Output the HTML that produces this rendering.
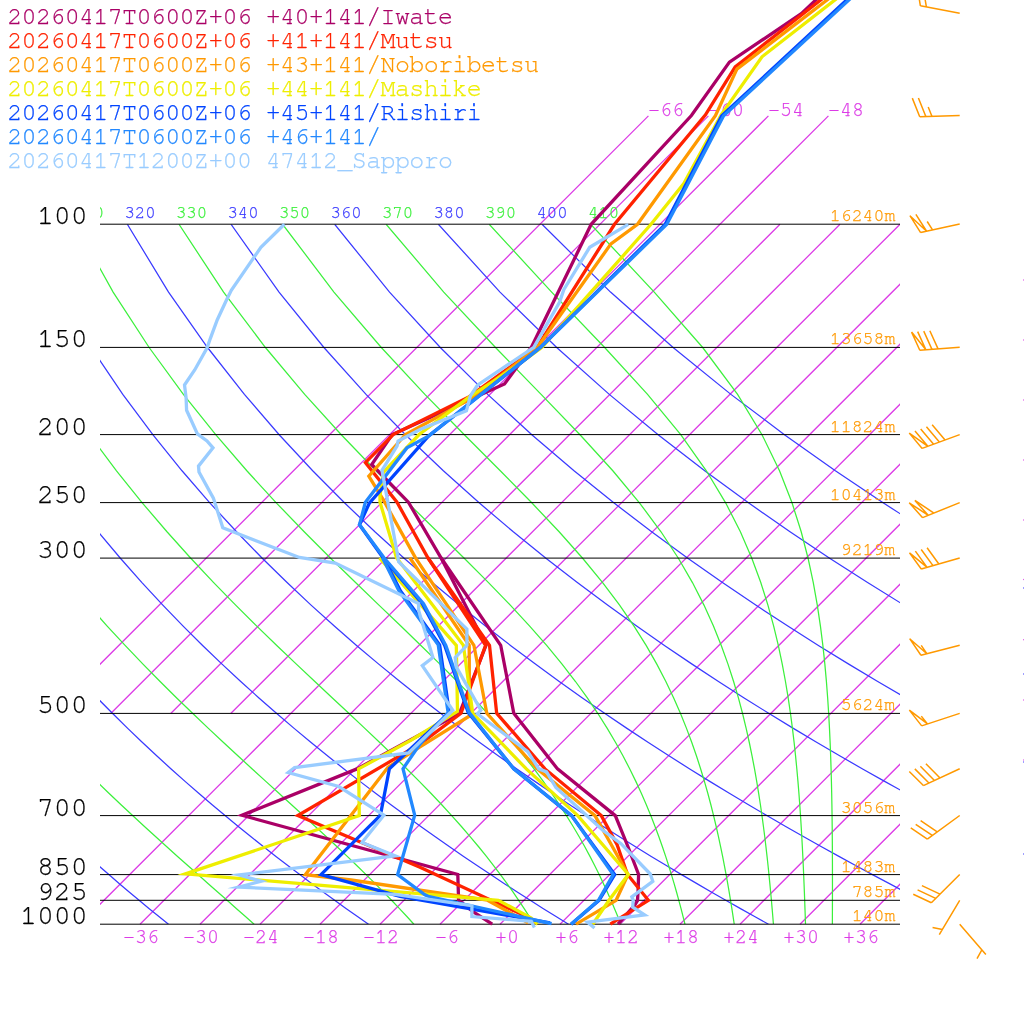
<!DOCTYPE html><html><head><meta charset="utf-8"><style>html,body{margin:0;padding:0;background:#fff;}svg{display:block}</style></head><body>
<svg width="1024" height="1024" viewBox="0 0 1024 1024">
<rect width="1024" height="1024" fill="#fff"/>
<defs><clipPath id="cp"><rect x="100" y="0" width="800" height="1024"/></clipPath><clipPath id="cb"><rect x="100" y="224.25" width="800" height="700.00"/></clipPath></defs>
<path clip-path="url(#cp)" d="M80.00 924.25L780.00 224.25M140.00 924.25L840.00 224.25M200.00 924.25L900.00 224.25M260.00 924.25L960.00 224.25M320.00 924.25L1020.00 224.25M380.00 924.25L1080.00 224.25M440.00 924.25L1140.00 224.25M500.00 924.25L1200.00 224.25M560.00 924.25L1260.00 224.25M620.00 924.25L1320.00 224.25M680.00 924.25L1380.00 224.25M740.00 924.25L1440.00 224.25M800.00 924.25L1500.00 224.25M860.00 924.25L1560.00 224.25M920.00 924.25L1620.00 224.25M980.00 924.25L1680.00 224.25M1040.00 924.25L1740.00 224.25M50.72 713.53L648.43 115.82M110.72 713.53L708.43 115.82M170.72 713.53L768.43 115.82M230.72 713.53L828.43 115.82" stroke="#dc3ce6" stroke-width="1.25" fill="none"/>
<text x="647.93" y="116.32" font-family="FreeMono, 'Liberation Mono', monospace" font-size="20" fill="#dc3ce6" stroke="#dc3ce6" stroke-width="0.25">−66</text>
<text x="707.93" y="116.32" font-family="FreeMono, 'Liberation Mono', monospace" font-size="20" fill="#dc3ce6" stroke="#dc3ce6" stroke-width="0.25">−60</text>
<text x="767.93" y="116.32" font-family="FreeMono, 'Liberation Mono', monospace" font-size="20" fill="#dc3ce6" stroke="#dc3ce6" stroke-width="0.25">−54</text>
<text x="827.93" y="116.32" font-family="FreeMono, 'Liberation Mono', monospace" font-size="20" fill="#dc3ce6" stroke="#dc3ce6" stroke-width="0.25">−48</text>
<path clip-path="url(#cb)" d="M-494.74 224.25L-494.41 292.09L-490.83 347.51L-485.35 394.38L-478.71 434.97L-471.33 470.78L-463.48 502.81L-455.33 531.78L-446.99 558.23L-438.56 582.57L-430.07 605.10L-421.57 626.07L-413.09 645.69L-404.65 664.12L-396.27 681.50L-387.95 697.94L-379.69 713.53L-371.52 728.36L-363.42 742.50L-355.41 756.02L-347.48 768.96L-339.64 781.37L-331.88 793.29L-324.20 804.76L-316.61 815.82L-309.10 826.49L-301.66 836.79L-294.31 846.76L-287.04 856.41L-279.85 865.77L-272.73 874.84L-265.68 883.66L-258.70 892.22L-251.80 900.55L-244.97 908.66L-238.20 916.55L-231.50 924.25M-391.06 224.25L-383.92 292.09L-374.44 347.51L-363.73 394.38L-352.36 434.97L-340.66 470.78L-328.82 502.81L-316.96 531.78L-305.14 558.23L-293.43 582.57L-281.84 605.10L-270.40 626.07L-259.11 645.69L-247.98 664.12L-237.02 681.50L-226.22 697.94L-215.59 713.53L-205.11 728.36L-194.79 742.50L-184.63 756.02L-174.61 768.96L-164.74 781.37L-155.01 793.29L-145.42 804.76L-135.96 815.82L-126.63 826.49L-117.43 836.79L-108.34 846.76L-99.38 856.41L-90.53 865.77L-81.79 874.84L-73.16 883.66L-64.63 892.22L-56.20 900.55L-47.87 908.66L-39.64 916.55L-31.50 924.25M-287.38 224.25L-273.43 292.09L-258.05 347.51L-242.10 394.38L-226.01 434.97L-209.99 470.78L-194.16 502.81L-178.59 531.78L-163.30 558.23L-148.30 582.57L-133.61 605.10L-119.22 626.07L-105.12 645.69L-91.31 664.12L-77.77 681.50L-64.50 697.94L-51.48 713.53L-38.70 728.36L-26.16 742.50L-13.84 756.02L-1.74 768.96L10.16 781.37L21.85 793.29L33.36 804.76L44.69 815.82L55.83 826.49L66.81 836.79L77.63 846.76L88.28 856.41L98.79 865.77L109.15 874.84L119.37 883.66L129.45 892.22L139.40 900.55L149.22 908.66L158.92 916.55L168.50 924.25M-183.71 224.25L-162.93 292.09L-141.65 347.51L-120.47 394.38L-99.66 434.97L-79.32 470.78L-59.50 502.81L-40.22 531.78L-21.45 558.23L-3.18 582.57L14.61 605.10L31.95 626.07L48.86 645.69L65.36 664.12L81.48 681.50L97.23 697.94L112.63 713.53L127.71 728.36L142.47 742.50L156.95 756.02L171.13 768.96L185.06 781.37L198.72 793.29L212.14 804.76L225.33 815.82L238.30 826.49L251.05 836.79L263.60 846.76L275.95 856.41L288.11 865.77L300.09 874.84L311.89 883.66L323.53 892.22L335.00 900.55L346.32 908.66L357.48 916.55L368.50 924.25M-80.03 224.25L-52.44 292.09L-25.26 347.51L1.15 394.38L26.69 434.97L51.35 470.78L75.15 502.81L98.15 531.78L120.40 558.23L141.95 582.57L162.84 605.10L183.13 626.07L202.85 645.69L222.03 664.12L240.72 681.50L258.95 697.94L276.74 713.53L294.12 728.36L311.11 742.50L327.73 756.02L344.01 768.96L359.95 781.37L375.59 793.29L390.92 804.76L405.98 815.82L420.76 826.49L435.29 836.79L449.56 846.76L463.61 856.41L477.42 865.77L491.02 874.84L504.41 883.66L517.60 892.22L530.60 900.55L543.41 908.66L556.04 916.55L568.50 924.25M23.65 224.25L58.05 292.09L91.13 347.51L122.78 394.38L153.04 434.97L182.02 470.78L209.81 502.81L236.52 531.78L262.25 558.23L287.08 582.57L311.07 605.10L334.30 626.07L356.83 645.69L378.70 664.12L399.97 681.50L420.67 697.94L440.85 713.53L460.53 728.36L479.74 742.50L498.52 756.02L516.88 768.96L534.85 781.37L552.45 793.29L569.71 804.76L586.62 815.82L603.22 826.49L619.52 836.79L635.53 846.76L651.27 856.41L666.74 865.77L681.96 874.84L696.94 883.66L711.68 892.22L726.20 900.55L740.50 908.66L754.60 916.55L768.50 924.25M127.32 224.25L168.54 292.09L207.53 347.51L244.41 394.38L279.40 434.97L312.69 470.78L344.47 502.81L374.90 531.78L404.10 558.23L432.20 582.57L459.30 605.10L485.48 626.07L510.81 645.69L535.38 664.12L559.22 681.50L582.40 697.94L604.96 713.53L626.94 728.36L648.37 742.50L669.30 756.02L689.75 768.96L709.75 781.37L729.32 793.29L748.49 804.76L767.27 815.82L785.69 826.49L803.76 836.79L821.50 846.76L838.93 856.41L856.06 865.77L872.90 874.84L889.46 883.66L905.76 892.22L921.80 900.55L937.60 908.66L953.16 916.55L968.50 924.25M231.00 224.25L279.04 292.09L323.92 347.51L366.04 394.38L405.75 434.97L443.36 470.78L479.13 502.81L513.27 531.78L545.95 558.23L577.33 582.57L607.53 605.10L636.65 626.07L664.80 645.69L692.05 664.12L718.47 681.50L744.12 697.94L769.07 713.53L793.35 728.36L817.01 742.50L840.09 756.02L862.62 768.96L884.65 781.37L906.19 793.29L927.27 804.76L947.92 815.82L968.15 826.49L988.00 836.79L1007.47 846.76L1026.59 856.41L1045.38 865.77L1063.83 874.84L1081.98 883.66L1099.83 892.22L1117.40 900.55L1134.69 908.66L1151.72 916.55L1168.50 924.25M334.68 224.25L389.53 292.09L440.31 347.51L487.66 394.38L532.10 434.97L574.03 470.78L613.79 502.81L651.64 531.78L687.80 558.23L722.45 582.57L755.75 605.10L787.83 626.07L818.78 645.69L848.72 664.12L877.72 681.50L905.85 697.94L933.17 713.53L959.75 728.36L985.64 742.50L1010.87 756.02L1035.50 768.96L1059.54 781.37L1083.05 793.29L1106.05 804.76L1128.56 815.82L1150.62 826.49L1172.24 836.79L1193.44 846.76L1214.26 856.41L1234.69 865.77L1254.77 874.84L1274.50 883.66L1293.91 892.22L1313.00 900.55L1331.79 908.66L1350.28 916.55L1368.50 924.25M438.35 224.25L500.02 292.09L556.71 347.51L609.29 394.38L658.45 434.97L704.70 470.78L748.44 502.81L790.01 531.78L829.65 558.23L867.58 582.57L903.98 605.10L939.00 626.07L972.77 645.69L1005.39 664.12L1036.96 681.50L1067.57 697.94L1097.28 713.53L1126.16 728.36L1154.27 742.50L1181.66 756.02L1208.37 768.96L1234.44 781.37L1259.92 793.29L1284.83 804.76L1309.21 815.82L1333.08 826.49L1356.48 836.79L1379.41 846.76L1401.92 856.41L1424.01 865.77L1445.71 874.84L1467.03 883.66L1487.98 892.22L1508.60 900.55L1528.88 908.66L1548.84 916.55L1568.50 924.25M542.03 224.25L610.52 292.09L673.10 347.51L730.92 394.38L784.80 434.97L835.37 470.78L883.10 502.81L928.38 531.78L971.50 558.23L1012.71 582.57L1052.21 605.10L1090.18 626.07L1126.75 645.69L1162.06 664.12L1196.21 681.50L1229.29 697.94L1261.39 713.53L1292.57 728.36L1322.91 742.50L1352.44 756.02L1381.24 768.96L1409.34 781.37L1436.78 793.29L1463.61 804.76L1489.85 815.82L1515.55 826.49L1540.71 836.79L1565.38 846.76L1589.58 856.41L1613.33 865.77L1636.64 874.84L1659.55 883.66L1682.06 892.22L1704.20 900.55L1725.97 908.66L1747.40 916.55L1768.50 924.25" stroke="#3a3aff" stroke-width="1.25" fill="none"/>
<path clip-path="url(#cb)" d="M-331.50 224.25L-399.34 292.09L-454.76 347.51L-501.63 394.38L-541.98 434.97L-536.76 470.78L-530.90 502.81L-524.60 531.78L-518.00 558.23L-511.20 582.57L-504.26 605.10L-497.23 626.07L-490.15 645.69L-483.05 664.12L-475.95 681.50L-468.86 697.94L-461.80 713.53L-454.77 728.36L-447.79 742.50L-440.85 756.02L-433.96 768.96L-427.13 781.37L-420.35 793.29L-413.63 804.76L-406.96 815.82L-400.36 826.49L-393.81 836.79L-387.32 846.76L-380.89 856.41L-374.52 865.77L-368.21 874.84L-361.96 883.66L-355.76 892.22L-349.61 900.55L-343.53 908.66L-337.49 916.55L-331.51 924.25M-331.50 224.25L-399.34 292.09L-432.75 347.51L-424.65 394.38L-415.64 434.97L-406.10 470.78L-396.25 502.81L-386.24 531.78L-376.16 558.23L-366.08 582.57L-356.04 605.10L-346.06 626.07L-336.18 645.69L-326.39 664.12L-316.71 681.50L-307.15 697.94L-297.70 713.53L-288.37 728.36L-279.16 742.50L-270.07 756.02L-261.10 768.96L-252.24 781.37L-243.49 793.29L-234.86 804.76L-226.33 815.82L-217.91 826.49L-209.60 836.79L-201.39 846.76L-193.28 856.41L-185.26 865.77L-177.34 874.84L-169.52 883.66L-161.78 892.22L-154.14 900.55L-146.58 908.66L-139.11 916.55L-131.72 924.25M-331.50 224.25L-328.80 292.09L-316.37 347.51L-303.04 394.38L-289.30 434.97L-275.44 470.78L-261.60 502.81L-247.87 531.78L-234.32 558.23L-220.96 582.57L-207.82 605.10L-194.90 626.07L-182.20 645.69L-169.73 664.12L-157.48 681.50L-145.44 697.94L-133.62 713.53L-121.99 728.36L-110.57 742.50L-99.34 756.02L-88.30 768.96L-77.44 781.37L-66.76 793.29L-56.25 804.76L-45.91 815.82L-35.73 826.49L-25.71 836.79L-15.85 846.76L-6.15 856.41L3.40 865.77L12.81 874.84L22.07 883.66L31.18 892.22L40.14 900.55L48.97 908.66L57.65 916.55L66.19 924.25M-235.69 224.25L-218.32 292.09L-199.99 347.51L-181.42 394.38L-162.96 434.97L-144.78 470.78L-126.95 502.81L-109.51 531.78L-92.48 558.23L-75.85 582.57L-59.61 605.10L-43.75 626.07L-28.26 645.69L-13.13 664.12L1.67 681.50L16.13 697.94L30.28 713.53L44.12 728.36L57.65 742.50L70.90 756.02L83.85 768.96L96.52 781.37L108.92 793.29L121.04 804.76L132.88 815.82L144.46 826.49L155.76 836.79L166.79 846.76L177.56 856.41L188.05 865.77L198.28 874.84L208.24 883.66L217.94 892.22L227.37 900.55L236.54 908.66L245.45 916.55L254.10 924.25M-132.03 224.25L-107.84 292.09L-83.60 347.51L-59.80 394.38L-36.62 434.97L-14.12 470.78L7.69 502.81L28.82 531.78L49.31 558.23L69.18 582.57L88.46 605.10L107.18 626.07L125.34 645.69L142.98 664.12L160.10 681.50L176.70 697.94L192.81 713.53L208.41 728.36L223.51 742.50L238.12 756.02L252.22 768.96L265.82 781.37L278.93 793.29L291.53 804.76L303.64 815.82L315.26 826.49L326.39 836.79L337.06 846.76L347.26 856.41L357.00 865.77L366.32 874.84L375.20 883.66L383.69 892.22L391.78 900.55L399.50 908.66L406.87 916.55L413.90 924.25M-28.36 224.25L2.64 292.09L32.78 347.51L61.81 394.38L89.70 434.97L116.50 470.78L142.24 502.81L166.99 531.78L190.79 558.23L213.68 582.57L235.68 605.10L256.79 626.07L277.02 645.69L296.37 664.12L314.83 681.50L332.39 697.94L349.06 713.53L364.83 728.36L379.72 742.50L393.75 756.02L406.93 768.96L419.30 781.37L430.89 793.29L441.75 804.76L451.91 815.82L461.42 826.49L470.31 836.79L478.64 846.76L486.44 856.41L493.76 865.77L500.62 874.84L507.07 883.66L513.13 892.22L518.83 900.55L524.21 908.66L529.29 916.55L534.08 924.25M75.30 224.25L113.12 292.09L149.15 347.51L183.38 394.38L215.92 434.97L246.85 470.78L276.26 502.81L304.18 531.78L330.61 558.23L355.54 582.57L378.95 605.10L400.82 626.07L421.14 645.69L439.93 664.12L457.22 681.50L473.09 697.94L487.61 713.53L500.86 728.36L512.96 742.50L524.00 756.02L534.08 768.96L543.30 781.37L551.73 793.29L559.47 804.76L566.58 815.82L573.14 826.49L579.18 836.79L584.78 846.76L589.97 856.41L594.79 865.77L599.28 874.84L603.48 883.66L607.40 892.22L611.08 900.55L614.54 908.66L617.79 916.55L620.86 924.25M178.96 224.25L223.58 292.09L265.44 347.51L304.71 394.38L341.52 434.97L375.92 470.78L407.87 502.81L437.32 531.78L464.20 558.23L488.50 582.57L510.28 605.10L529.67 626.07L546.86 645.69L562.05 664.12L575.48 681.50L587.35 697.94L597.88 713.53L607.24 728.36L615.59 742.50L623.06 756.02L629.78 768.96L635.84 781.37L641.33 793.29L646.32 804.76L650.87 815.82L655.04 826.49L658.87 836.79L662.40 846.76L665.67 856.41L668.69 865.77L671.51 874.84L674.13 883.66L676.58 892.22L678.88 900.55L681.04 908.66L683.07 916.55L684.98 924.25M282.60 224.25L333.93 292.09L381.31 347.51L424.89 394.38L464.60 434.97L500.27 470.78L531.77 502.81L559.14 531.78L582.63 558.23L602.63 582.57L619.60 605.10L634.01 626.07L646.29 645.69L656.80 664.12L665.85 681.50L673.69 697.94L680.52 713.53L686.51 728.36L691.80 742.50L696.49 756.02L700.67 768.96L704.42 781.37L707.80 793.29L710.86 804.76L713.64 815.82L716.18 826.49L718.51 836.79L720.64 846.76L722.62 856.41L724.44 865.77L726.14 874.84L727.72 883.66L729.19 892.22L730.57 900.55L731.87 908.66L733.09 916.55L734.24 924.25M386.14 224.25L443.75 292.09L495.52 347.51L541.13 394.38L580.23 434.97L612.83 470.78L639.46 502.81L660.99 531.78L678.37 558.23L692.46 582.57L703.96 605.10L713.45 626.07L721.35 645.69L727.98 664.12L733.60 681.50L738.41 697.94L742.56 713.53L746.16 728.36L749.31 742.50L752.08 756.02L754.53 768.96L756.71 781.37L758.66 793.29L760.42 804.76L762.00 815.82L763.44 826.49L764.75 836.79L765.94 846.76L767.04 856.41L768.06 865.77L768.99 874.84L769.86 883.66L770.67 892.22L771.43 900.55L772.13 908.66L772.80 916.55L773.42 924.25M489.22 224.25L551.67 292.09L604.65 347.51L647.55 394.38L680.93 434.97L706.35 470.78L725.64 502.81L740.39 531.78L751.81 558.23L760.78 582.57L767.92 605.10L773.67 626.07L778.37 645.69L782.25 664.12L785.47 681.50L788.19 697.94L790.48 713.53L792.44 728.36L794.12 742.50L795.57 756.02L796.84 768.96L797.94 781.37L798.91 793.29L799.76 804.76L800.52 815.82L801.19 826.49L801.79 836.79L802.34 846.76L802.83 856.41L803.27 865.77L803.67 874.84L804.04 883.66L804.38 892.22L804.69 900.55L804.98 908.66L805.25 916.55L805.51 924.25M590.70 224.25L654.24 292.09L702.70 347.51L737.58 394.38L762.14 434.97L779.51 470.78L792.02 502.81L801.20 531.78L808.06 558.23L813.28 582.57L817.29 605.10L820.43 626.07L822.89 645.69L824.85 664.12L826.41 681.50L827.66 697.94L828.67 713.53L829.48 728.36L830.13 742.50L830.66 756.02L831.08 768.96L831.42 781.37L831.69 793.29L831.90 804.76L832.07 815.82L832.19 826.49L832.29 836.79L832.36 846.76L832.41 856.41L832.44 865.77L832.45 874.84L832.46 883.66L832.45 892.22L832.44 900.55L832.42 908.66L832.40 916.55L832.38 924.25" stroke="#3cf03c" stroke-width="1.25" fill="none"/>
<g clip-path="url(#cp)" font-family="FreeMono, 'Liberation Mono', monospace" font-size="17.3">
<text x="72.90" y="218.25" fill="#3cf03c" stroke="#3cf03c" stroke-width="0.25">310</text>
<text x="124.40" y="218.25" fill="#3a3aff" stroke="#3a3aff" stroke-width="0.25">320</text>
<text x="175.90" y="218.25" fill="#3cf03c" stroke="#3cf03c" stroke-width="0.25">330</text>
<text x="227.40" y="218.25" fill="#3a3aff" stroke="#3a3aff" stroke-width="0.25">340</text>
<text x="278.90" y="218.25" fill="#3cf03c" stroke="#3cf03c" stroke-width="0.25">350</text>
<text x="330.40" y="218.25" fill="#3a3aff" stroke="#3a3aff" stroke-width="0.25">360</text>
<text x="381.90" y="218.25" fill="#3cf03c" stroke="#3cf03c" stroke-width="0.25">370</text>
<text x="433.40" y="218.25" fill="#3a3aff" stroke="#3a3aff" stroke-width="0.25">380</text>
<text x="484.90" y="218.25" fill="#3cf03c" stroke="#3cf03c" stroke-width="0.25">390</text>
<text x="536.40" y="218.25" fill="#3a3aff" stroke="#3a3aff" stroke-width="0.25">400</text>
<text x="587.90" y="218.25" fill="#3cf03c" stroke="#3cf03c" stroke-width="0.25">410</text>
</g>
<path d="M100 224.20H900M100 347.40H900M100 434.60H900M100 502.60H900M100 558.10H900M100 713.40H900M100 815.60H900M100 874.60H900M100 900.30H900M100 924.20H900" stroke="#000" stroke-width="1" fill="none"/>
<text x="87.7" y="224.05" font-family="FreeMono, 'Liberation Mono', monospace" font-size="28.2" text-anchor="end" fill="#000" stroke="#000" stroke-width="0.25">100</text>
<text x="87.7" y="347.31" font-family="FreeMono, 'Liberation Mono', monospace" font-size="28.2" text-anchor="end" fill="#000" stroke="#000" stroke-width="0.25">150</text>
<text x="87.7" y="434.77" font-family="FreeMono, 'Liberation Mono', monospace" font-size="28.2" text-anchor="end" fill="#000" stroke="#000" stroke-width="0.25">200</text>
<text x="87.7" y="502.61" font-family="FreeMono, 'Liberation Mono', monospace" font-size="28.2" text-anchor="end" fill="#000" stroke="#000" stroke-width="0.25">250</text>
<text x="87.7" y="558.03" font-family="FreeMono, 'Liberation Mono', monospace" font-size="28.2" text-anchor="end" fill="#000" stroke="#000" stroke-width="0.25">300</text>
<text x="87.7" y="713.33" font-family="FreeMono, 'Liberation Mono', monospace" font-size="28.2" text-anchor="end" fill="#000" stroke="#000" stroke-width="0.25">500</text>
<text x="87.7" y="815.62" font-family="FreeMono, 'Liberation Mono', monospace" font-size="28.2" text-anchor="end" fill="#000" stroke="#000" stroke-width="0.25">700</text>
<text x="87.7" y="874.64" font-family="FreeMono, 'Liberation Mono', monospace" font-size="28.2" text-anchor="end" fill="#000" stroke="#000" stroke-width="0.25">850</text>
<text x="87.7" y="900.35" font-family="FreeMono, 'Liberation Mono', monospace" font-size="28.2" text-anchor="end" fill="#000" stroke="#000" stroke-width="0.25">925</text>
<text x="87.7" y="924.05" font-family="FreeMono, 'Liberation Mono', monospace" font-size="28.2" text-anchor="end" fill="#000" stroke="#000" stroke-width="0.25">1000</text>
<text x="895.3" y="220.95" font-family="FreeMono, 'Liberation Mono', monospace" font-size="18.2" text-anchor="end" fill="#ff9900" stroke="#ff9900" stroke-width="0.25">16240m</text>
<text x="895.3" y="344.21" font-family="FreeMono, 'Liberation Mono', monospace" font-size="18.2" text-anchor="end" fill="#ff9900" stroke="#ff9900" stroke-width="0.25">13658m</text>
<text x="895.3" y="431.67" font-family="FreeMono, 'Liberation Mono', monospace" font-size="18.2" text-anchor="end" fill="#ff9900" stroke="#ff9900" stroke-width="0.25">11824m</text>
<text x="895.3" y="499.51" font-family="FreeMono, 'Liberation Mono', monospace" font-size="18.2" text-anchor="end" fill="#ff9900" stroke="#ff9900" stroke-width="0.25">10413m</text>
<text x="895.3" y="554.93" font-family="FreeMono, 'Liberation Mono', monospace" font-size="18.2" text-anchor="end" fill="#ff9900" stroke="#ff9900" stroke-width="0.25">9219m</text>
<text x="895.3" y="710.23" font-family="FreeMono, 'Liberation Mono', monospace" font-size="18.2" text-anchor="end" fill="#ff9900" stroke="#ff9900" stroke-width="0.25">5624m</text>
<text x="895.3" y="812.52" font-family="FreeMono, 'Liberation Mono', monospace" font-size="18.2" text-anchor="end" fill="#ff9900" stroke="#ff9900" stroke-width="0.25">3056m</text>
<text x="895.3" y="871.54" font-family="FreeMono, 'Liberation Mono', monospace" font-size="18.2" text-anchor="end" fill="#ff9900" stroke="#ff9900" stroke-width="0.25">1483m</text>
<text x="895.3" y="897.25" font-family="FreeMono, 'Liberation Mono', monospace" font-size="18.2" text-anchor="end" fill="#ff9900" stroke="#ff9900" stroke-width="0.25">785m</text>
<text x="895.3" y="920.95" font-family="FreeMono, 'Liberation Mono', monospace" font-size="18.2" text-anchor="end" fill="#ff9900" stroke="#ff9900" stroke-width="0.25">140m</text>
<text x="158.90" y="942.55" font-family="FreeMono, 'Liberation Mono', monospace" font-size="20" text-anchor="end" fill="#dc3ce6" stroke="#dc3ce6" stroke-width="0.25">−36</text>
<text x="218.90" y="942.55" font-family="FreeMono, 'Liberation Mono', monospace" font-size="20" text-anchor="end" fill="#dc3ce6" stroke="#dc3ce6" stroke-width="0.25">−30</text>
<text x="278.90" y="942.55" font-family="FreeMono, 'Liberation Mono', monospace" font-size="20" text-anchor="end" fill="#dc3ce6" stroke="#dc3ce6" stroke-width="0.25">−24</text>
<text x="338.90" y="942.55" font-family="FreeMono, 'Liberation Mono', monospace" font-size="20" text-anchor="end" fill="#dc3ce6" stroke="#dc3ce6" stroke-width="0.25">−18</text>
<text x="398.90" y="942.55" font-family="FreeMono, 'Liberation Mono', monospace" font-size="20" text-anchor="end" fill="#dc3ce6" stroke="#dc3ce6" stroke-width="0.25">−12</text>
<text x="458.90" y="942.55" font-family="FreeMono, 'Liberation Mono', monospace" font-size="20" text-anchor="end" fill="#dc3ce6" stroke="#dc3ce6" stroke-width="0.25">−6</text>
<text x="518.90" y="942.55" font-family="FreeMono, 'Liberation Mono', monospace" font-size="20" text-anchor="end" fill="#dc3ce6" stroke="#dc3ce6" stroke-width="0.25">+0</text>
<text x="578.90" y="942.55" font-family="FreeMono, 'Liberation Mono', monospace" font-size="20" text-anchor="end" fill="#dc3ce6" stroke="#dc3ce6" stroke-width="0.25">+6</text>
<text x="638.90" y="942.55" font-family="FreeMono, 'Liberation Mono', monospace" font-size="20" text-anchor="end" fill="#dc3ce6" stroke="#dc3ce6" stroke-width="0.25">+12</text>
<text x="698.90" y="942.55" font-family="FreeMono, 'Liberation Mono', monospace" font-size="20" text-anchor="end" fill="#dc3ce6" stroke="#dc3ce6" stroke-width="0.25">+18</text>
<text x="758.90" y="942.55" font-family="FreeMono, 'Liberation Mono', monospace" font-size="20" text-anchor="end" fill="#dc3ce6" stroke="#dc3ce6" stroke-width="0.25">+24</text>
<text x="818.90" y="942.55" font-family="FreeMono, 'Liberation Mono', monospace" font-size="20" text-anchor="end" fill="#dc3ce6" stroke="#dc3ce6" stroke-width="0.25">+30</text>
<text x="878.90" y="942.55" font-family="FreeMono, 'Liberation Mono', monospace" font-size="20" text-anchor="end" fill="#dc3ce6" stroke="#dc3ce6" stroke-width="0.25">+36</text>
<path d="M959.70 13.20L920.38 5.84M920.38 5.84L917.12 -13.89M926.38 6.96L923.11 -12.77M959.70 115.50L919.72 116.71M919.72 116.71L912.31 98.13M925.82 116.53L918.41 97.95M931.91 116.34L928.21 107.05M959.70 224.00L920.63 232.58M920.63 232.58L909.92 215.69L926.59 231.27M926.59 231.27L915.88 214.38M932.55 229.96L927.19 221.52M959.70 347.30L919.81 350.30M919.81 350.30L911.58 332.07L925.90 349.84M925.90 349.84L917.67 331.61M931.98 349.38L923.75 331.16M938.06 348.93L929.83 330.70M959.70 434.60L922.16 448.41M922.16 448.41L909.25 433.14L927.89 446.31M927.89 446.31L914.98 431.03M933.61 444.20L920.70 428.93M939.34 442.09L926.43 426.82M945.06 439.99L932.15 424.71M959.70 502.60L922.63 517.63M922.63 517.63L909.23 502.78L928.28 515.34M928.28 515.34L914.88 500.49L933.94 513.04M959.70 558.00L921.25 569.02M921.25 569.02L909.50 552.83L927.11 567.34M927.11 567.34L915.36 551.15M932.97 565.66L921.22 549.47M938.84 563.98L927.09 547.79M959.70 645.30L920.95 655.21M920.95 655.21L909.66 638.70L926.86 653.70M926.86 653.70L921.22 645.45M959.70 713.40L921.69 725.87M921.69 725.87L909.34 710.14L927.49 723.97M927.49 723.97L921.31 716.10M959.70 768.80L923.40 785.59M923.40 785.59L909.30 771.41M928.93 783.03L914.83 768.85M934.47 780.47L920.37 766.29M940.01 777.91L925.91 763.73M959.70 815.50L927.35 839.03M927.35 839.03L910.77 827.86M932.29 835.44L915.70 824.27M937.22 831.86L920.63 820.68M959.70 874.50L931.37 902.73M931.37 902.73L913.25 894.25M935.69 898.43L917.58 889.94M940.01 894.12L921.90 885.64M959.70 900.30L939.28 934.70M942.40 929.45L932.57 927.60M959.70 924.30L985.86 954.56M981.87 949.94L977.00 958.68" stroke="#ff9900" stroke-width="1.5" fill="none" stroke-linejoin="miter"/>
<text x="7.2" y="24" font-family="FreeMono, 'Liberation Mono', monospace" font-size="25" letter-spacing="-0.64" fill="#aa0066" stroke="#aa0066" stroke-width="0.25" xml:space="preserve">20260417T0600Z+06 +40+141/Iwate</text>
<text x="7.2" y="48" font-family="FreeMono, 'Liberation Mono', monospace" font-size="25" letter-spacing="-0.64" fill="#ff2200" stroke="#ff2200" stroke-width="0.25" xml:space="preserve">20260417T0600Z+06 +41+141/Mutsu</text>
<text x="7.2" y="72" font-family="FreeMono, 'Liberation Mono', monospace" font-size="25" letter-spacing="-0.64" fill="#ff9900" stroke="#ff9900" stroke-width="0.25" xml:space="preserve">20260417T0600Z+06 +43+141/Noboribetsu</text>
<text x="7.2" y="96" font-family="FreeMono, 'Liberation Mono', monospace" font-size="25" letter-spacing="-0.64" fill="#eeee00" stroke="#eeee00" stroke-width="0.25" xml:space="preserve">20260417T0600Z+06 +44+141/Mashike</text>
<text x="7.2" y="120" font-family="FreeMono, 'Liberation Mono', monospace" font-size="25" letter-spacing="-0.64" fill="#0044ff" stroke="#0044ff" stroke-width="0.25" xml:space="preserve">20260417T0600Z+06 +45+141/Rishiri</text>
<text x="7.2" y="144" font-family="FreeMono, 'Liberation Mono', monospace" font-size="25" letter-spacing="-0.64" fill="#2288ff" stroke="#2288ff" stroke-width="0.25" xml:space="preserve">20260417T0600Z+06 +46+141/</text>
<text x="7.2" y="168" font-family="FreeMono, 'Liberation Mono', monospace" font-size="25" letter-spacing="-0.64" fill="#99ccff" stroke="#99ccff" stroke-width="0.25" xml:space="preserve">20260417T1200Z+00 47412_Sapporo</text>
<g clip-path="url(#cp)" fill="none" stroke-width="3.3" stroke-linejoin="miter" stroke-miterlimit="10">
<path d="M441.00 557.80L486.00 645.30L459.50 713.30L357.00 768.90L241.95 815.30L457.80 874.50L458.60 900.30L473.40 911.90L492.20 924.20" stroke="#aa0066"/>
<path d="M817.90 -2.00L801.30 13.70L729.40 62.10L691.40 115.50L591.20 224.30L531.40 347.30L504.50 383.90L392.20 434.50L371.70 464.50L408.40 502.20L441.00 557.80L500.70 645.30L513.80 713.30L557.50 768.90L615.30 815.60L627.90 846.50L638.60 874.50L638.10 890.50L637.50 900.50L634.70 905.20L618.00 924.20" stroke="#aa0066"/>
<path d="M427.90 557.80L485.60 645.30L461.00 713.30L420.00 744.00L297.80 815.60L420.00 867.20L529.70 918.10L534.40 924.20" stroke="#ff2200"/>
<path d="M823.20 -2.00L735.20 66.90L705.30 115.00L614.50 224.30L537.00 347.30L469.30 396.70L393.20 434.50L365.40 462.60L397.00 502.20L427.90 557.80L489.50 645.30L496.70 713.30L545.00 768.90L601.30 815.60L617.10 844.60L627.50 874.50L648.40 900.30L610.30 924.20" stroke="#ff2200"/>
<path d="M409.80 557.80L469.20 645.30L469.50 716.00L420.00 746.80L388.00 767.30L305.30 874.70L351.10 880.00L487.50 900.20L528.10 922.80" stroke="#ff9900"/>
<path d="M829.60 -2.00L736.90 69.10L715.40 115.60L637.50 224.30L610.90 243.90L537.50 347.30L471.00 398.60L405.50 434.50L368.80 476.20L383.00 499.30L415.50 557.80L473.90 645.30L486.80 713.30L537.20 768.90L595.00 815.60L628.00 874.50L616.10 900.30L576.10 924.20" stroke="#ff9900"/>
<path d="M379.50 557.80L456.30 645.30L457.50 711.40L411.30 740.00L358.60 768.90L359.30 815.60L185.49 873.83L498.40 900.30L531.30 918.10L537.50 924.20" stroke="#eeee00"/>
<path d="M837.40 -2.00L762.00 56.80L721.00 115.00L683.80 183.60L651.00 224.30L542.00 347.30L516.70 365.80L468.70 397.40L419.10 434.50L383.40 472.30L380.00 495.40L380.00 502.20L396.50 557.80L463.40 645.30L472.70 713.30L526.30 768.90L577.80 815.60L628.30 874.50L609.00 900.30L592.70 924.20" stroke="#eeee00"/>
<path d="M383.50 557.80L400.50 591.00L439.60 644.80L449.30 712.60L420.00 740.00L389.40 768.70L381.20 811.10L379.80 815.90L321.00 874.70L400.00 896.30L550.00 922.80" stroke="#0044ff"/>
<path d="M848.80 -2.00L721.80 115.80L665.20 224.30L540.50 347.30L428.40 436.10L369.30 503.20L359.50 524.70L383.00 557.80L422.30 603.60L444.60 645.30L468.30 712.60L513.80 768.90L571.60 815.60L614.70 874.50L599.00 900.30L571.10 924.20" stroke="#0044ff"/>
<path d="M382.50 557.80L399.00 591.00L438.20 644.80L448.10 712.60L420.00 744.10L403.00 768.70L414.70 815.20L397.60 874.70L424.90 894.80L428.10 896.30L551.60 923.60" stroke="#2288ff"/>
<path d="M851.00 -2.00L723.60 115.80L666.80 224.30L540.50 347.30L428.40 436.10L406.90 447.90L365.40 502.20L359.50 524.70L384.00 557.80L423.50 603.60L445.80 645.30L469.20 712.60L513.80 768.90L571.60 815.60L613.20 874.50L598.50 900.30L571.10 924.20" stroke="#2288ff"/>
<path d="M284.40 224.30L260.90 247.30L231.30 290.30L226.60 299.70L217.20 320.00L210.20 338.80L207.00 348.10L194.70 370.00L184.50 385.00L186.10 397.90L186.60 410.30L197.40 433.90L207.00 440.90L213.00 447.90L198.50 466.10L199.00 472.00L213.40 498.10L222.80 527.80L299.40 557.50L335.30 563.00L418.60 603.60L418.60 610.40L432.90 657.50L422.30 665.70L452.80 710.20L408.50 753.00L294.60 767.50L288.18 772.57L338.80 786.50L383.90 815.20L362.00 842.50L395.31 855.89L239.12 874.97L261.41 881.25L238.53 887.07L395.00 894.40L471.90 905.60L471.90 916.60L531.30 921.30L534.40 927.50" stroke="#99ccff"/>
<path d="M628.30 224.30L589.70 247.30L563.80 289.70L559.60 302.00L533.80 347.30L477.50 385.10L470.50 395.60L466.40 410.90L420.50 429.30L398.10 441.00L397.10 445.90L382.00 470.30L397.60 555.00L398.60 561.80L466.90 629.10L466.90 645.30L455.20 657.50L456.30 666.90L480.90 710.20L477.40 713.80L527.80 751.60L538.80 768.80L546.60 771.90L555.90 787.50L602.50 830.00L621.00 843.70L650.30 874.00L652.80 881.30L631.80 896.90L633.20 900.30L632.70 907.10L644.70 915.01L587.48 922.17L594.50 928.00" stroke="#99ccff"/>
</g>
<rect x="1023" y="279.4" width="1" height="1.2" fill="#dc3ce6" opacity="0.8"/>
<rect x="1023" y="339.4" width="1" height="1.2" fill="#dc3ce6" opacity="0.8"/>
<rect x="1023" y="399.4" width="1" height="1.2" fill="#dc3ce6" opacity="0.8"/>
<rect x="1023" y="459.4" width="1" height="1.2" fill="#dc3ce6" opacity="0.8"/>
<rect x="1023" y="519.4" width="1" height="1.2" fill="#dc3ce6" opacity="0.8"/>
<rect x="1023" y="578.9" width="1" height="1.2" fill="#dc3ce6" opacity="0.8"/>
<rect x="1023" y="587.4" width="1" height="1.2" fill="#3a3aff" opacity="0.8"/>
<rect x="1023" y="639.1" width="1" height="1.2" fill="#dc3ce6" opacity="0.8"/>
<rect x="1023" y="673.4" width="1" height="1.2" fill="#3a3aff" opacity="0.8"/>
<rect x="1023" y="699.4" width="1" height="1.2" fill="#dc3ce6" opacity="0.8"/>
<rect x="1023" y="759.4" width="1" height="1.2" fill="#dc3ce6" opacity="0.8"/>
<rect x="1023" y="761.4" width="1" height="1.2" fill="#3a3aff" opacity="0.8"/>
<rect x="1023" y="853.4" width="1" height="1.2" fill="#3a3aff" opacity="0.8"/>
</svg></body></html>
